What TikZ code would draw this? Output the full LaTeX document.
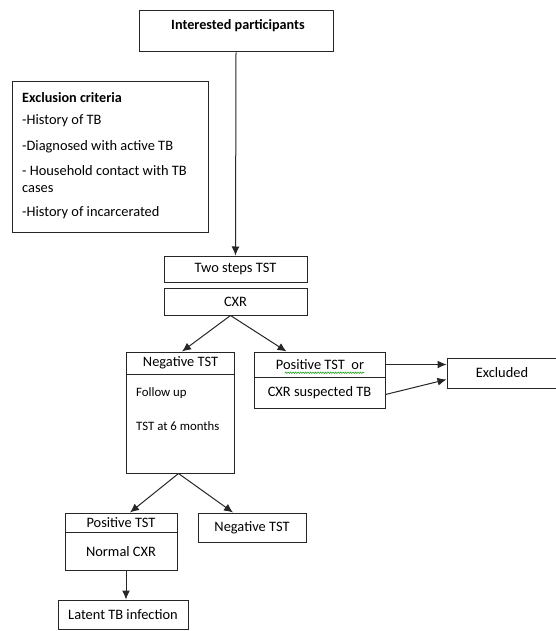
\documentclass[tikz,border=0pt]{standalone}
\usepackage{fontspec}
\setmainfont{Carlito}
\usetikzlibrary{arrows.meta,calc,decorations.pathmorphing}
\begin{document}
\begin{tikzpicture}[x=1pt,y=-1pt,
  box/.style={draw=black!85,line width=1pt,inner sep=0pt,fill=white},
  txt/.style={inner sep=0pt,font=\fontsize{14.4}{16}\selectfont},
  stxt/.style={inner sep=0pt,font=\fontsize{12.8}{15}\selectfont,anchor=west},
  arr/.style={draw=black!85,line width=1pt,-{Latex[length=9pt,width=8pt]}},
  divider/.style={draw=black!85,line width=1pt}]
\useasboundingbox (0,0) rectangle (555,631);
% top
\node[box,minimum width=194pt,minimum height=41pt] (ip) at (236,31.5) {};
\node[txt,font=\fontsize{14.2}{16}\selectfont\bfseries] (iptxt) at (238,26) {Interested participants};
% exclusion
\node[box,minimum width=196pt,minimum height=150pt] (ex) at (110,157) {};
\node[txt,anchor=west,font=\fontsize{14.2}{16}\selectfont\bfseries] (ex0) at (22,98) {Exclusion criteria};
\node[txt,anchor=west] (ex1) at (22,121) {-History of TB};
\node[txt,anchor=west] (ex2) at (22,147) {-Diagnosed with active TB};
\node[txt,anchor=west] (ex3) at (22,171) {- Household contact with TB};
\node[txt,anchor=west] (ex4) at (22,189) {cases};
\node[txt,anchor=west] (ex5) at (22,213) {-History of incarcerated};
% two steps / cxr
\node[box,minimum width=143pt,minimum height=26pt,txt] (two) at (235.5,269) {Two steps TST};
\node[box,minimum width=143pt,minimum height=27pt,txt] (cxr) at (235.5,301.5) {CXR};
% negative box
\node[box,minimum width=108pt,minimum height=121pt] (neg) at (180.5,412.5) {};
\draw[divider] ($(neg.north west)+(0,23)$) -- ($(neg.north east)+(0,23)$);
\node[txt] (negt) at (180.5,363) {Negative TST};
\node[stxt] (fu) at (136,393) {Follow up};
\node[stxt] (six) at (136,426) {TST at 6 months};
% positive box
\node[box,minimum width=131pt,minimum height=56pt] (pos) at (319.5,380) {};
\draw[divider] ($(pos.north west)+(0,26)$) -- ($(pos.north east)+(0,26)$);
\node[txt] (pos1) at (320,365) {Positive TST\ \ or};
\node[txt] (pos2) at (319.5,393) {CXR suspected TB};
\draw[green!60!black,line width=0.5pt,decorate,decoration={snake,amplitude=0.7pt,segment length=2.5pt}] ($(pos1.south west)+(9,2.5)$) -- ($(pos1.south east)+(0,2.5)$);
% excluded
\node[box,minimum width=113pt,minimum height=30pt] (exc) at (503.5,373) {};
\node[txt] (exct) at (502,373) {Excluded};
% bottom
\node[box,minimum width=112pt,minimum height=57pt] (ptst) at (121,541.5) {};
\draw[divider] ($(ptst.north west)+(0,20)$) -- ($(ptst.north east)+(0,20)$);
\node[txt] (pt1) at (121,523) {Positive TST};
\node[txt] (pt2) at (121,552) {Normal CXR};
\node[box,minimum width=108pt,minimum height=29pt,txt] (ntst) at (252,527.5) {Negative TST};
\node[box,minimum width=130pt,minimum height=29pt,txt] (lat) at (123,614.5) {Latent TB infection};
% connectors
\coordinate (cxrout) at ($(cxr.south)+(-5,0)$);
\coordinate (negout) at ($(neg.south)+(-2,0)$);
\coordinate (ptout) at ($(ptst.south)+(5,0)$);
\draw[arr] (ip.south) -- (two.north);
\draw[arr] (cxrout) -- ($(neg.north)+(1.5,0)$);
\draw[arr] (cxrout) -- ($(pos.north west)!0.25!(pos.north east)$);
\draw[arr] ($(pos.north east)+(0,13)$) -- ($(exc.north west)+(0,7)$);
\draw[arr] ($(pos.south east)+(0,-14)$) -- ($(exc.north west)+(0,22)$);
\draw[arr] (negout) -- ($(ptst.north)+(9,0)$);
\draw[arr] (negout) -- ($(ntst.north)+(-19,0)$);
\draw[arr] (ptout) -- (ptout |- lat.north);
\end{tikzpicture}
\end{document}
